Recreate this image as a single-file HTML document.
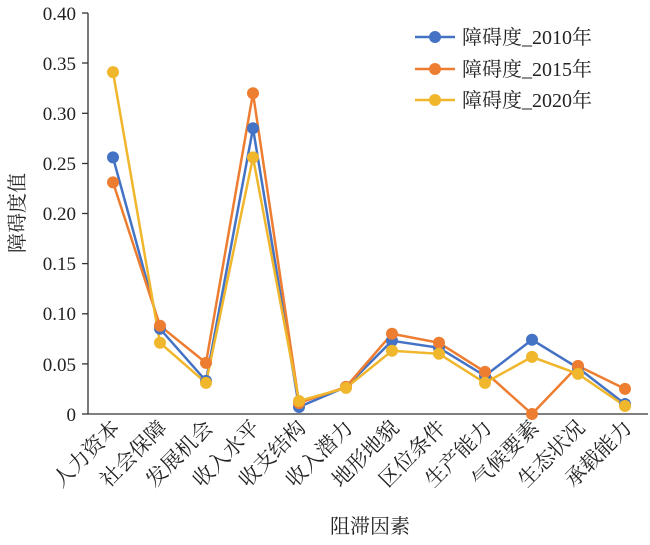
<!DOCTYPE html>
<html><head><meta charset="utf-8"><style>
html,body{margin:0;padding:0;background:#fff;}
svg{display:block;}
text{font-family:"Liberation Serif","Noto Serif CJK SC",serif;fill:#222;}
.cj{font-family:"Liberation Serif","Noto Serif CJK SC","Noto Sans CJK SC",serif;}
</style></head><body>
<svg width="650" height="545" viewBox="0 0 650 545" xmlns="http://www.w3.org/2000/svg">
<g stroke="#333" stroke-width="1.3" fill="none">
<line x1="88" y1="13" x2="88" y2="414"/>
<line x1="88" y1="414" x2="648" y2="414"/>
<line x1="82" y1="13" x2="88" y2="13"/><line x1="82" y1="63" x2="88" y2="63"/>
<line x1="82" y1="113.3" x2="88" y2="113.3"/><line x1="82" y1="163.5" x2="88" y2="163.5"/>
<line x1="82" y1="213.5" x2="88" y2="213.5"/><line x1="82" y1="263.6" x2="88" y2="263.6"/>
<line x1="82" y1="313.8" x2="88" y2="313.8"/><line x1="82" y1="363.9" x2="88" y2="363.9"/>
<line x1="82" y1="414" x2="88" y2="414"/>
</g>
<g font-size="19" text-anchor="end">
<text x="76" y="20">0.40</text><text x="76" y="70">0.35</text><text x="76" y="120">0.30</text>
<text x="76" y="170">0.25</text><text x="76" y="220">0.20</text><text x="76" y="270">0.15</text>
<text x="76" y="320">0.10</text><text x="76" y="371">0.05</text><text x="76" y="421">0</text>
</g>
<text class="cj" font-size="20" transform="translate(24,213) rotate(-90)" text-anchor="middle">障碍度值</text>
<text class="cj" font-size="20" x="370" y="533" text-anchor="middle">阻滞因素</text>
<g class="cj" font-size="21" text-anchor="end">
<text transform="translate(121,429) rotate(-45)">人力资本</text>
<text transform="translate(168,429) rotate(-45)">社会保障</text>
<text transform="translate(214,429) rotate(-45)">发展机会</text>
<text transform="translate(261,429) rotate(-45)">收入水平</text>
<text transform="translate(307,429) rotate(-45)">收支结构</text>
<text transform="translate(354,429) rotate(-45)">收入潜力</text>
<text transform="translate(400,429) rotate(-45)">地形地貌</text>
<text transform="translate(447,429) rotate(-45)">区位条件</text>
<text transform="translate(493,429) rotate(-45)">生产能力</text>
<text transform="translate(540,429) rotate(-45)">气候要素</text>
<text transform="translate(586,429) rotate(-45)">生态状况</text>
<text transform="translate(633,429) rotate(-45)">承载能力</text>
</g>
<g fill="none" stroke-width="2.5">
<polyline stroke="#4472C4" points="113,157.4 160,328.8 206,380.9 253,128.3 299,407 346,386.9 392,340.8 439,347.8 485,375.9 532,339.8 578,367.9 625,404"/>
<polyline stroke="#ED7D31" points="113,182.4 160,325.8 206,362.9 253,93.2 299,403 346,386.9 392,333.8 439,342.8 485,371.9 532,414 578,365.9 625,388.9"/>
<polyline stroke="#F0B62C" points="113,72.1 160,342.8 206,382.9 253,157.4 299,401 346,387.9 392,350.8 439,353.8 485,382.9 532,356.9 578,373.9 625,406"/>
</g>
<g fill="#4472C4">
<circle cx="113" cy="157.4" r="6"/><circle cx="160" cy="328.8" r="6"/><circle cx="206" cy="380.9" r="6"/><circle cx="253" cy="128.3" r="6"/><circle cx="299" cy="407" r="6"/><circle cx="346" cy="386.9" r="6"/><circle cx="392" cy="340.8" r="6"/><circle cx="439" cy="347.8" r="6"/><circle cx="485" cy="375.9" r="6"/><circle cx="532" cy="339.8" r="6"/><circle cx="578" cy="367.9" r="6"/><circle cx="625" cy="404" r="6"/>
</g>
<g fill="#ED7D31">
<circle cx="113" cy="182.4" r="6"/><circle cx="160" cy="325.8" r="6"/><circle cx="206" cy="362.9" r="6"/><circle cx="253" cy="93.2" r="6"/><circle cx="299" cy="403" r="6"/><circle cx="346" cy="386.9" r="6"/><circle cx="392" cy="333.8" r="6"/><circle cx="439" cy="342.8" r="6"/><circle cx="485" cy="371.9" r="6"/><circle cx="532" cy="414" r="6"/><circle cx="578" cy="365.9" r="6"/><circle cx="625" cy="388.9" r="6"/>
</g>
<g fill="#F0B62C">
<circle cx="113" cy="72.1" r="6"/><circle cx="160" cy="342.8" r="6"/><circle cx="206" cy="382.9" r="6"/><circle cx="253" cy="157.4" r="6"/><circle cx="299" cy="401" r="6"/><circle cx="346" cy="387.9" r="6"/><circle cx="392" cy="350.8" r="6"/><circle cx="439" cy="353.8" r="6"/><circle cx="485" cy="382.9" r="6"/><circle cx="532" cy="356.9" r="6"/><circle cx="578" cy="373.9" r="6"/><circle cx="625" cy="406" r="6"/>
</g>
<g stroke-width="2.5">
<line x1="415" y1="37" x2="455" y2="37" stroke="#4472C4"/><circle cx="435" cy="37" r="6" fill="#4472C4"/>
<line x1="415" y1="69" x2="455" y2="69" stroke="#ED7D31"/><circle cx="435" cy="69" r="6" fill="#ED7D31"/>
<line x1="415" y1="100" x2="455" y2="100" stroke="#F0B62C"/><circle cx="435" cy="100" r="6" fill="#F0B62C"/>
</g>
<g class="cj" font-size="20">
<text x="462" y="44">障碍度_2010年</text>
<text x="462" y="76">障碍度_2015年</text>
<text x="462" y="107">障碍度_2020年</text>
</g>
</svg>
</body></html>
